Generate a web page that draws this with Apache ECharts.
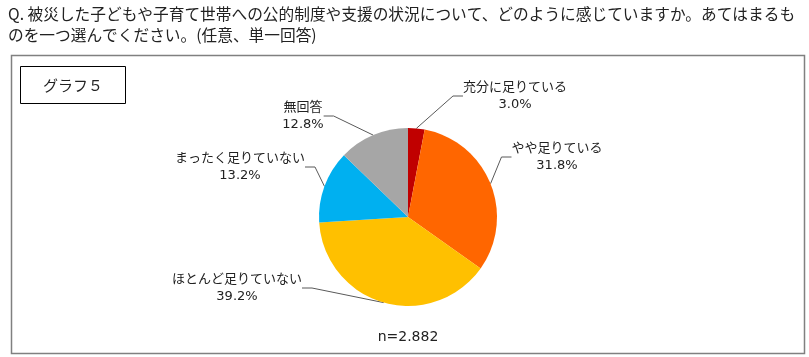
<!DOCTYPE html>
<html><head><meta charset="utf-8">
<script src="https://cdn.jsdelivr.net/npm/echarts@6/dist/echarts.min.js"></script>
<style>html,body{margin:0;padding:0;background:#fff}#c{width:809px;height:357px}</style>
</head><body><div id="c"></div>
<script>
const categories = ['充分に足りている','やや足りている','ほとんど足りていない','まったく足りていない','無回答'];
const values = [3.0, 31.8, 39.2, 13.2, 12.8];
const colors = ['#C00000','#FF6600','#FFC000','#00B0F0','#A6A6A6'];
const titleLine1 = 'Q. 被災した子どもや子育て世帯への公的制度や支援の状況について、どのように感じていますか。あてはまるも';
const titleLine2 = 'のを一つ選んでください。(任意、単一回答)';
const graphLabel = 'グラフ５';
const nLabel = 'n=2.882';
// label placement (center of label text)
const labelPos = [[515,96],[557,157],[237,288],[240,167],[303,116]];
const FONT = '"Noto Sans CJK JP", "Noto Sans", sans-serif';
const LFONT = '"DejaVu Sans", "Noto Sans CJK JP", sans-serif';

const chart = echarts.init(document.getElementById('c'));
chart.setOption({
  animation: false,
  textStyle: {fontFamily: FONT},
  graphic: [
    {type:'text', left:8, top:4, style:{text: titleLine1 + '\n' + titleLine2, font: '15.7px ' + FONT, fill:'#222', lineHeight: 21}},
    {type:'rect', shape:{x:11.5, y:55.5, width:793, height:298}, style:{fill:'none', stroke:'#808080', lineWidth:1.5}},
    {type:'rect', shape:{x:20.5, y:66.5, width:105, height:37}, style:{fill:'#fff', stroke:'#000', lineWidth:1}},
    {type:'text', x:73, y:85, style:{text: graphLabel, font:'15px ' + FONT, fill:'#222', align:'center', verticalAlign:'middle'}},
    {type:'text', x:408, y:337, style:{text: nLabel, font:'14px ' + LFONT, fill:'#222', align:'center', verticalAlign:'middle'}}
  ],
  series: [{
    type: 'pie',
    center: [408, 217],
    radius: [0, 89],
    startAngle: 90,
    clockwise: true,
    data: categories.map((c,i)=>({name:c, value:values[i], itemStyle:{color:colors[i]}})),
    itemStyle: {borderColor:'#fff', borderWidth:0},
    label: {
      show: true,
      formatter: p => p.name + '\n' + p.value.toFixed(1) + '%',
      fontSize: 13, color:'#222', lineHeight: 17, align:'center',
      fontFamily: LFONT
    },
    labelLine: {show:true, length: 15, length2: 10, lineStyle:{color:'#595959', width:1}},
    labelLayout: function(p){
      const pos = labelPos[p.dataIndex];
      return {x: pos[0], y: pos[1], align:'center', verticalAlign:'middle'};
    }
  }]
});
</script></body></html>
